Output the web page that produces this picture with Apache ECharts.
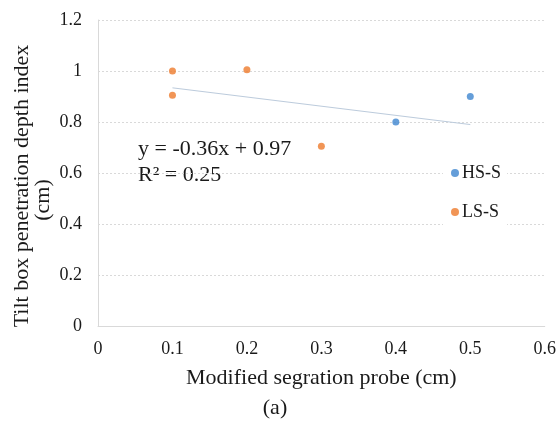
<!DOCTYPE html>
<html>
<head>
<meta charset="utf-8">
<script src="https://cdn.jsdelivr.net/npm/echarts@6/dist/echarts.min.js"></script>
<style>
  html, body { margin: 0; padding: 0; background: #fff; }
  #chart { width: 559px; height: 423px; }
</style>
</head>
<body>
<div id="chart"></div>
<script>
// Probe depth (x) vs. tilt box penetration depth index (y)
const hsX = [0.4, 0.5];
const hsY = [0.8, 0.9];
const lsX = [0.1, 0.1, 0.2, 0.3];
const lsY = [1.0, 0.905, 1.005, 0.705];

// Linear trendline over all points
const trendSlope = -0.36;
const trendIntercept = 0.97;
const trendX = [0.1, 0.5];

const xTicks = [0, 0.1, 0.2, 0.3, 0.4, 0.5, 0.6];
const yTicks = [0, 0.2, 0.4, 0.6, 0.8, 1, 1.2];

const seriesNames = ['HS-S', 'LS-S'];
const xTitle = 'Modified segration probe (cm)';
const yTitle = ['Tilt box penetration depth index', '(cm)'];
const eqLines = ['y = -0.36x + 0.97', 'R² = 0.25'];
const caption = '(a)';

const serif = '"Liberation Serif", "Times New Roman", serif';
const textColor = '#1a1a1a';

const pairs = (xs, ys) => xs.map((x, i) => [x, ys[i]]);

const chart = echarts.init(document.getElementById('chart'), null, { renderer: 'canvas' });

chart.setOption({
  animation: false,
  backgroundColor: '#fff',
  grid: { left: 98, right: 14, top: 20, bottom: 97, containLabel: false },
  xAxis: {
    type: 'value',
    min: xTicks[0],
    max: xTicks[xTicks.length - 1],
    interval: 0.1,
    axisLine: { show: true, lineStyle: { color: '#d9d9d9', width: 1 } },
    axisTick: { show: false },
    splitLine: { show: false },
    axisLabel: { fontFamily: serif, fontSize: 18, color: textColor, margin: 14 },
    name: xTitle,
    nameLocation: 'middle',
    nameGap: 41,
    nameTextStyle: { fontFamily: serif, fontSize: 22, color: textColor }
  },
  yAxis: {
    type: 'value',
    min: yTicks[0],
    max: yTicks[yTicks.length - 1],
    interval: 0.2,
    axisLine: { show: true, lineStyle: { color: '#d9d9d9', width: 1 } },
    axisTick: { show: false },
    splitLine: { show: true, lineStyle: { color: '#d9d9d9', type: [2, 2], width: 1 } },
    axisLabel: { fontFamily: serif, fontSize: 18, color: textColor, margin: 16 }
  },
  legend: {
    data: seriesNames,
    orient: 'vertical',
    left: 443,
    top: 160,
    itemWidth: 8,
    itemHeight: 8,
    itemGap: 21,
    padding: [4, 6, 4, 8],
    backgroundColor: '#fff',
    icon: 'circle',
    textStyle: { fontFamily: serif, fontSize: 18, color: textColor, padding: [0, 0, 0, -2] }
  },
  series: [
    {
      name: 'trend',
      type: 'line',
      data: trendX.map(x => [x, trendSlope * x + trendIntercept]),
      showSymbol: false,
      silent: true,
      lineStyle: { color: '#bccbdc', width: 1 },
      z: 1
    },
    {
      name: seriesNames[0],
      type: 'scatter',
      data: pairs(hsX, hsY),
      symbol: 'circle',
      symbolSize: 7,
      itemStyle: { color: '#3f86d0' },
      z: 3
    },
    {
      name: seriesNames[1],
      type: 'scatter',
      data: pairs(lsX, lsY),
      symbol: 'circle',
      symbolSize: 7,
      itemStyle: { color: '#ee7b2c' },
      z: 3
    }
  ],
  graphic: [
    {
      type: 'text',
      x: 22,
      y: 186,
      rotation: Math.PI / 2,
      style: {
        text: yTitle[0],
        font: '22px ' + serif,
        fill: textColor,
        textAlign: 'center',
        textVerticalAlign: 'middle'
      }
    },
    {
      type: 'text',
      x: 43,
      y: 200,
      rotation: Math.PI / 2,
      style: {
        text: yTitle[1],
        font: '22px ' + serif,
        fill: textColor,
        textAlign: 'center',
        textVerticalAlign: 'middle'
      }
    },
    {
      type: 'text',
      x: 138,
      y: 149,
      style: {
        text: eqLines[0],
        font: '22px ' + serif,
        fill: textColor,
        textAlign: 'left',
        textVerticalAlign: 'middle'
      }
    },
    {
      type: 'text',
      x: 138,
      y: 175,
      style: {
        text: eqLines[1],
        font: '22px ' + serif,
        fill: textColor,
        textAlign: 'left',
        textVerticalAlign: 'middle'
      }
    },
    {
      type: 'text',
      x: 275,
      y: 408,
      style: {
        text: caption,
        font: '22px ' + serif,
        fill: textColor,
        textAlign: 'center',
        textVerticalAlign: 'middle'
      }
    }
  ]
});
</script>
</body>
</html>
